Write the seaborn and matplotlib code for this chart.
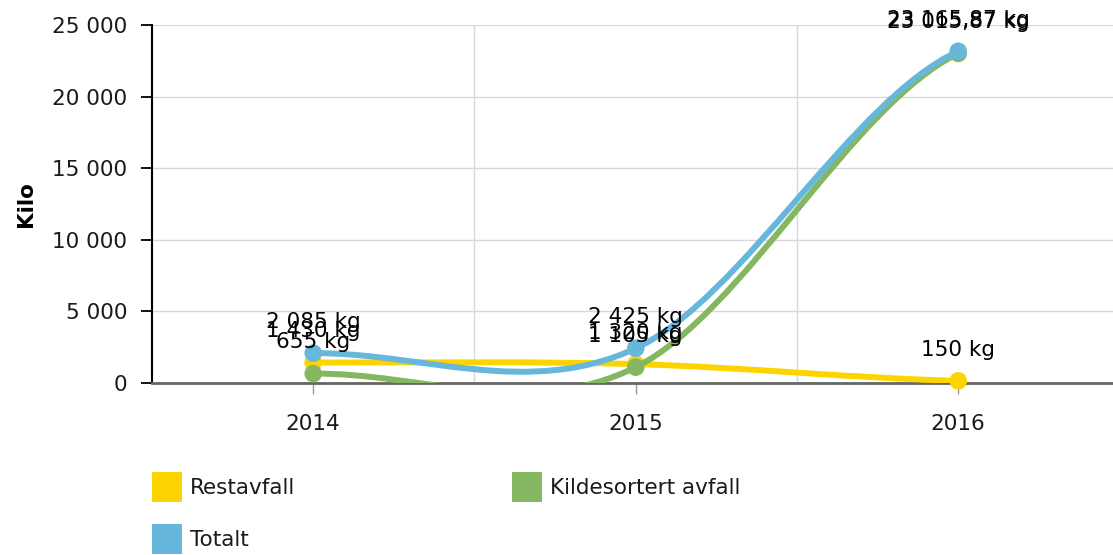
import numpy as np
import pandas as pd
import matplotlib
matplotlib.use("Agg")
import matplotlib.pyplot as plt
import matplotlib.patches as mpatches
from matplotlib.path import Path
import seaborn as sns

# data
years = ["2014", "2015", "2016"]
restavfall = [1430, 1320, 150]
kildesortert = [655, 1105, 23015.87]
totalt = [2085, 2425, 23165.87]
series_names = ["Restavfall", "Kildesortert avfall", "Totalt"]
colors = ["#fdd400", "#84b761", "#67b7dc"]
yticks = [0, 5000, 10000, 15000, 20000, 25000]

sns.set_theme(style="white")
plt.rcParams['font.family'] = ['DejaVu Sans']

W, H = 1113, 555
fig = plt.figure(figsize=(W / 100, H / 100), dpi=100)
ax = fig.add_axes([152 / W, 172 / H, 961 / W, 358 / H])
ax.set_xlim(-0.5, 2.48)
ax.set_ylim(0, 25000)


def smooth_path(xs, ys):
    # y(x) hermite curve, catmull-rom tangents, end points repeated
    n = len(xs)
    py = [ys[0]] + list(ys) + [ys[-1]]
    verts = [(xs[0], ys[0])]
    codes = [Path.MOVETO]
    for j in range(1, n):
        x0, x1 = xs[j - 1], xs[j]
        dx = (x1 - x0) / 3
        c1 = (x0 + dx, py[j] + (py[j + 1] - py[j - 1]) / 6)
        c2 = (x1 - dx, py[j + 1] - (py[j + 2] - py[j]) / 6)
        verts += [c1, c2, (x1, py[j + 1])]
        codes += [Path.CURVE4] * 3
    return Path(verts, codes)


def fmt(v):
    if float(v).is_integer():
        s = f"{int(v):,}".replace(",", " ")
    else:
        s = f"{v:,.2f}".replace(",", " ").replace(".", ",")
    return s + " kg"


xs = list(range(len(years)))
all_series = [restavfall, kildesortert, totalt]

rows = []
for name, vals in zip(series_names, all_series):
    for x, v in zip(xs, vals):
        rows.append({"x": x, "value": v, "serie": name})
df = pd.DataFrame(rows)

for k, (name, vals, c) in enumerate(zip(series_names, all_series, colors)):
    patch = mpatches.PathPatch(smooth_path(xs, vals), facecolor="none",
                               edgecolor=c, lw=4.3, capstyle="round",
                               joinstyle="round", zorder=3 + k)
    ax.add_patch(patch)
    sns.scatterplot(data=df[df.serie == name], x="x", y="value", color=c,
                    s=160, edgecolor="none", legend=False, ax=ax,
                    zorder=3.5 + k, clip_on=False)

for name, vals in zip(series_names, all_series):
    for x, v in zip(xs, vals):
        ax.annotate(fmt(v), (x, v), xytext=(0, 22.5), textcoords="offset points",
                    ha="center", va="center", fontsize=15.5, color="black",
                    annotation_clip=False, zorder=10)

ax.set_xticks(xs)
ax.set_xticklabels(years)
ax.set_xticks([0.5, 1.5], minor=True)
ax.set_yticks(yticks)
ax.set_yticklabels([f"{t:,}".replace(",", " ") for t in yticks])
ax.tick_params(axis="y", which="major", length=8, width=1.3, color="black",
               labelsize=15.5, pad=10, left=True, labelcolor="#1a1a1a")
ax.tick_params(axis="x", which="major", length=8, width=1, color="#999999",
               labelsize=15.5, pad=14, bottom=True, labelcolor="#1a1a1a")
ax.tick_params(axis="x", which="minor", length=0)
ax.grid(True, axis="y", which="major", color="#d8d8d8", lw=1)
ax.grid(True, axis="x", which="minor", color="#d8d8d8", lw=1)
ax.grid(False, axis="x", which="major")
ax.set_axisbelow(True)

for s in ["top", "right"]:
    ax.spines[s].set_visible(False)
ax.spines["left"].set_color("black")
ax.spines["left"].set_linewidth(1.5)
ax.spines["bottom"].set_color("#666666")
ax.spines["bottom"].set_linewidth(2)
ax.spines["bottom"].set_zorder(2.5)

ax.set_xlabel("")
ax.set_ylabel("Kilo", fontsize=15.5, fontweight="bold", color="black")
ax.yaxis.set_label_coords(-116 / 961, 0.5)

# legend
legend_items = [(152, 472, 0), (512, 472, 1), (152, 524, 2)]
for lx, ly, k in legend_items:
    fig.add_artist(mpatches.Rectangle((lx / W, 1 - (ly + 30) / H), 30 / W, 30 / H,
                                      transform=fig.transFigure,
                                      facecolor=colors[k], edgecolor="none"))
    fig.text((lx + 38) / W, 1 - (ly + 16) / H, series_names[k], fontsize=15.5,
             va="center", ha="left", color="#1a1a1a")

fig.savefig("out.png", dpi=100)
